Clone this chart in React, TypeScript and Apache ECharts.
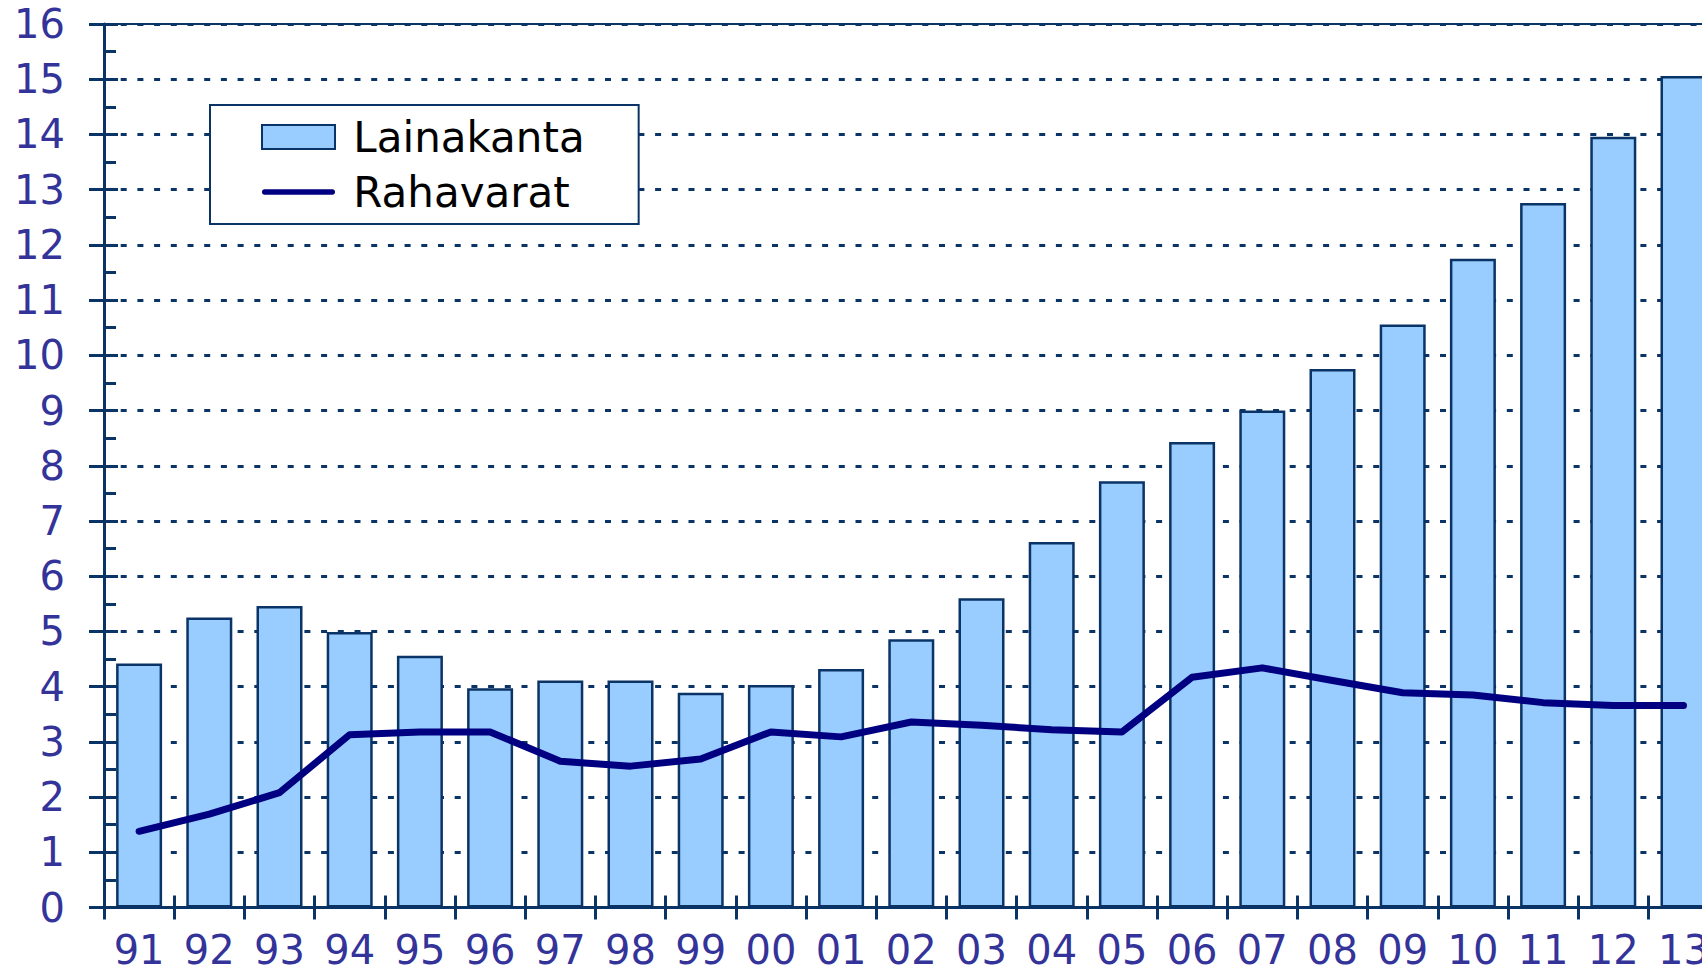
import React, { useEffect, useRef } from "react";
import * as echarts from "echarts";

const categories = ["91","92","93","94","95","96","97","98","99","00","01","02","03","04","05","06","07","08","09","10","11","12","13"];
const lainakanta = [4.42,5.25,5.46,4.99,4.56,3.97,4.11,4.11,3.89,4.03,4.32,4.86,5.6,6.62,7.72,8.43,9.0,9.75,10.56,11.75,12.76,13.96,15.06];
const rahavarat = [1.38,1.69,2.08,3.13,3.18,3.18,2.65,2.56,2.69,3.18,3.09,3.36,3.3,3.22,3.18,4.17,4.34,4.11,3.89,3.85,3.71,3.66,3.66];
const seriesNames = ["Lainakanta", "Rahavarat"];

const NAVY = "#0a3366";
const LABEL = "#333399";
const FONT = "DejaVu Sans";
const LINE_ICON = "path://M3,0 L80,0 A3,3 0 0 1 80,6 L3,6 A3,3 0 0 1 3,0 Z";

export default function App() {
  const ref = useRef<HTMLDivElement>(null);
  useEffect(() => {
    if (!ref.current) return;
    const chart = echarts.init(ref.current, null, { renderer: "svg" });
    const catW = 70.2;
    chart.setOption({
      animation: false,
      backgroundColor: "#ffffff",
      grid: {
        left: 104,
        top: 24,
        width: catW * categories.length,
        height: 883.5,
        show: true,
        borderColor: NAVY,
        borderWidth: 2,
        backgroundColor: "transparent",
        containLabel: false,
      },
      legend: {
        orient: "vertical",
        left: 210,
        top: 105,
        data: [
          { name: seriesNames[0], icon: "rect" },
          { name: seriesNames[1], icon: LINE_ICON },
        ],
        formatter: (name: string) => " " + name,
        symbolKeepAspect: true,
        backgroundColor: "#ffffff",
        borderColor: NAVY,
        borderWidth: 2,
        borderRadius: 0,
        padding: [11, 54, 11, 51],
        itemWidth: 73,
        itemHeight: 24,
        itemGap: 13,
        textStyle: { color: "#000000", fontSize: 42, fontFamily: FONT },
      },
      xAxis: [
        {
          type: "category",
          data: categories,
          boundaryGap: true,
          axisLine: { show: true, lineStyle: { color: NAVY, width: 3 } },
          axisTick: { show: true, inside: false, length: 12, lineStyle: { color: NAVY, width: 3 } },
          axisLabel: { color: LABEL, fontSize: 40, lineHeight: 40, fontFamily: FONT, margin: 22, interval: 0 },
          splitLine: { show: false },
        },
        {
          type: "category",
          data: categories,
          position: "bottom",
          offset: 0,
          boundaryGap: true,
          axisLine: { show: false },
          axisTick: { show: true, inside: true, length: 12, lineStyle: { color: NAVY, width: 3 } },
          axisLabel: { show: false },
          splitLine: { show: false },
        },
      ],
      yAxis: [
        {
          type: "value",
          min: 0,
          max: 16,
          interval: 1,
          axisLine: { show: true, lineStyle: { color: NAVY, width: 3 } },
          axisTick: { show: true, inside: true, length: 14, lineStyle: { color: NAVY, width: 3 } },
          minorTick: { show: true, splitNumber: 2, length: 12, lineStyle: { color: NAVY, width: 3 } },
          axisLabel: { color: LABEL, fontSize: 40, fontFamily: FONT, margin: 39 },
          splitLine: { show: true, lineStyle: { color: NAVY, width: 3, type: [6, 10.7] } },
        },
        {
          type: "value",
          min: 0,
          max: 16,
          interval: 1,
          position: "left",
          offset: 0,
          axisLine: { show: false },
          axisTick: { show: true, inside: false, length: 15, lineStyle: { color: NAVY, width: 3 } },
          axisLabel: { show: false },
          splitLine: { show: false },
        },
      ],
      series: [
        {
          name: seriesNames[0],
          type: "bar",
          data: lainakanta,
          barWidth: 46,
          itemStyle: { color: "#99ccff", borderColor: NAVY, borderWidth: 2.5 },
          z: 2,
        },
        {
          name: seriesNames[1],
          type: "line",
          data: rahavarat,
          symbol: "none",
          lineStyle: { color: "#000080", width: 7, cap: "round", join: "round" },
          itemStyle: { color: "#000080" },
          z: 3,
        },
      ],
    });
    return () => chart.dispose();
  }, []);
  return (
    <div style={{ position: "fixed", left: 0, top: 0, width: 1702, height: 972, overflow: "hidden", background: "#fff" }}>
      <div ref={ref} style={{ width: 1760, height: 972 }} />
    </div>
  );
}
